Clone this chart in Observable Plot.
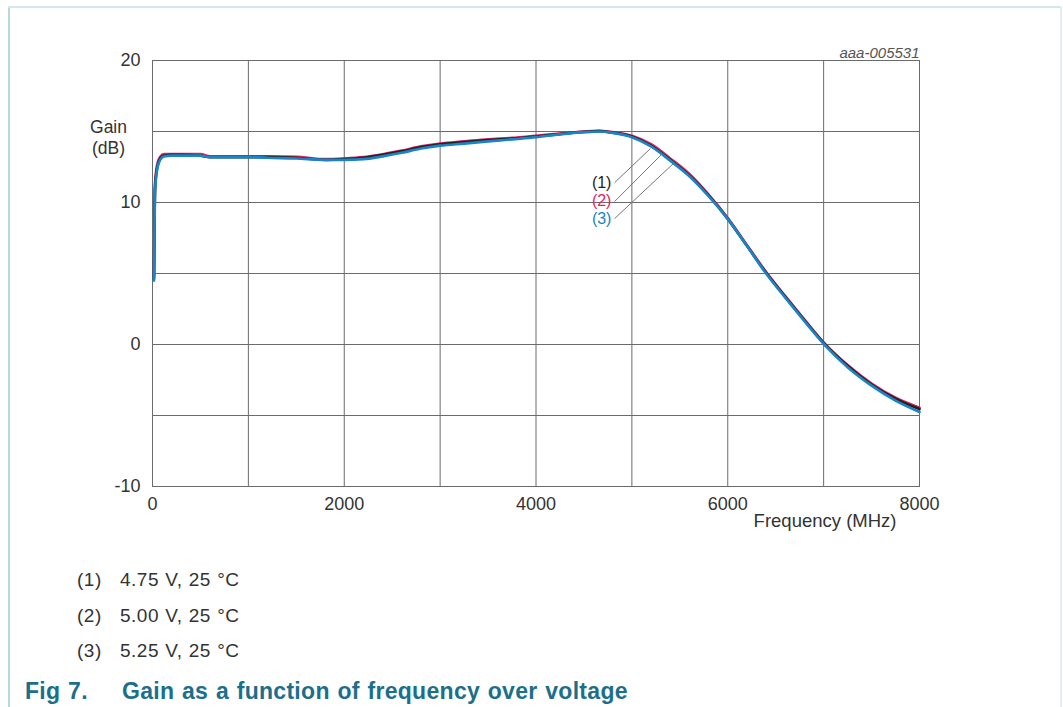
<!DOCTYPE html>
<html>
<head>
<meta charset="utf-8">
<script src="https://cdn.jsdelivr.net/npm/d3@7"></script>
<script src="https://cdn.jsdelivr.net/npm/@observablehq/plot@0.6"></script>
<style>
  html, body { margin: 0; padding: 0; background: #fff; }
  #page { position: relative; width: 1063px; height: 707px; overflow: hidden; font-family: "Liberation Sans", Arial, sans-serif; }
  #bl { position: absolute; left: 8px; top: 6px; width: 2px; height: 701px; background: #b7d7df; }
  #bt { position: absolute; left: 8px; top: 6px; width: 1054px; height: 2px; background: #d3e7ec; }
  #br { position: absolute; left: 1060px; top: 6px; width: 2px; height: 701px; background: #e2eff2; }
  #chart { position: absolute; left: 0; top: 0; }
  .leg { position: absolute; font-size: 19px; color: #333; line-height: 1; letter-spacing: 0.5px; word-spacing: 0.5px; }
  .cap { position: absolute; font-size: 23px; font-weight: bold; color: #1c6f8c; line-height: 1; letter-spacing: 0.3px; word-spacing: 1px; }
</style>
</head>
<body>
<div id="page">
  <div id="bl"></div><div id="bt"></div><div id="br"></div>
  <div id="chart"></div>
  <div class="leg" style="left:77px; top:570px;">(1)</div>
  <div class="leg" style="left:120px; top:570px;">4.75 V, 25 °C</div>
  <div class="leg" style="left:77px; top:606px;">(2)</div>
  <div class="leg" style="left:120px; top:606px;">5.00 V, 25 °C</div>
  <div class="leg" style="left:77px; top:641px;">(3)</div>
  <div class="leg" style="left:120px; top:641px;">5.25 V, 25 °C</div>
  <div class="cap" style="left:25px; top:680px;">Fig 7.</div>
  <div class="cap" style="left:122px; top:680px;">Gain as a function of frequency over voltage</div>
</div>
<script>
// Frequency (MHz)
const freq = [15, 20, 25, 35, 50, 80, 120, 200, 300, 500, 600, 800, 1000, 1200, 1500, 1800, 2000, 2200, 2400, 2600, 2800, 3000, 3250, 3500, 3750, 4000, 4250, 4500, 4650, 4800, 5000, 5200, 5400, 5600, 5800, 6000, 6200, 6400, 6600, 6800, 7000, 7250, 7500, 7750, 8000];
// Gain (dB), curve (1) 4.75 V
const gain1 = [4.6, 8.0, 10.8, 11.8, 12.5, 13.1, 13.3, 13.35, 13.35, 13.3, 13.2, 13.2, 13.2, 13.2, 13.15, 13.0, 13.05, 13.15, 13.35, 13.6, 13.9, 14.1, 14.25, 14.4, 14.5, 14.65, 14.82, 14.97, 15.02, 14.92, 14.65, 14.0, 13.0, 11.9, 10.5, 8.85, 6.95, 5.05, 3.35, 1.7, 0.1, -1.5, -2.82, -3.82, -4.55];
// Gain (dB), curve (2) 5.00 V
const gain2 = [4.8, 8.5, 11.0, 12.0, 12.7, 13.2, 13.4, 13.4, 13.4, 13.4, 13.25, 13.25, 13.25, 13.25, 13.22, 13.05, 13.1, 13.2, 13.4, 13.65, 13.95, 14.15, 14.3, 14.45, 14.55, 14.7, 14.85, 15.0, 15.05, 14.95, 14.7, 14.1, 13.1, 12.0, 10.55, 8.9, 7.0, 5.1, 3.4, 1.75, 0.15, -1.45, -2.75, -3.75, -4.45];
// Gain (dB), curve (3) 5.25 V
const gain3 = [4.5, 7.5, 10.5, 11.6, 12.4, 13.0, 13.25, 13.3, 13.3, 13.3, 13.2, 13.2, 13.2, 13.15, 13.1, 13.0, 13.0, 13.05, 13.25, 13.5, 13.8, 14.0, 14.15, 14.3, 14.45, 14.6, 14.8, 14.95, 15.0, 14.9, 14.6, 13.95, 12.95, 11.85, 10.45, 8.85, 6.95, 5.0, 3.3, 1.65, 0.05, -1.6, -2.9, -3.95, -4.75];

const seriesNames = ["(1)", "(2)", "(3)"];
const seriesColors = ["#222222", "#e3245a", "#1a84c6"];
const xTicks = [0, 2000, 4000, 6000, 8000];
const yTicks = [-10, 0, 10, 20];
const xGrid = [0, 1000, 2000, 3000, 4000, 5000, 6000, 7000, 8000];
const yGrid = [-10, -5, 0, 5, 10, 15, 20];

// annotation labels and leader lines (data coordinates)
const labelFreq = [4787, 4787, 4787];
const labelGain = [11.35, 10.1, 8.85];
const leaderFromFreq = [4820, 4820, 4820];
const leaderFromGain = [11.4, 10.07, 8.87];
const leaderToFreq = [5194, 5319, 5434];
const leaderToGain = [13.8, 13.45, 12.75];

const rows = (g, i) => freq.map((f, k) => ({ f, g: g[k], s: seriesNames[i] }));
const data1 = rows(gain1, 0), data2 = rows(gain2, 1), data3 = rows(gain3, 2);
const labels = seriesNames.map((s, i) => ({ s, f: labelFreq[i], g: labelGain[i], c: seriesColors[i],
  f1: leaderFromFreq[i], g1: leaderFromGain[i], f2: leaderToFreq[i], g2: leaderToGain[i] }));

const chart = Plot.plot({
  width: 1063,
  height: 545,
  marginTop: 60,
  marginLeft: 152,
  marginRight: 144,
  marginBottom: 59,
  style: { fontFamily: "'Liberation Sans', Arial, sans-serif", fontSize: "18px", color: "#333", background: "transparent" },
  x: { domain: [0, 8000] },
  y: { domain: [-10, 20] },
  marks: [
    Plot.gridX(xGrid, { stroke: "#6b6b6b", strokeOpacity: 1, strokeWidth: 1 }),
    Plot.gridY(yGrid, { stroke: "#6b6b6b", strokeOpacity: 1, strokeWidth: 1 }),
    Plot.frame({ stroke: "#6b6b6b", strokeWidth: 1 }),
    Plot.axisX({ ticks: xTicks, tickSize: 0, tickPadding: 11, label: null, tickFormat: d => String(d), fill: "#333", fontSize: 18 }),
    Plot.axisY({ ticks: yTicks, tickSize: 0, tickPadding: 12, label: null, tickFormat: d => String(d), fill: "#333", fontSize: 18 }),
    Plot.link(labels, { x1: "f1", y1: "g1", x2: "f2", y2: "g2", stroke: "#777", strokeWidth: 1 }),
    Plot.text(labels, { x: "f", y: "g", text: "s", fill: "c", textAnchor: "end", fontSize: 16 }),
    Plot.line(data2, { x: "f", y: "g", stroke: seriesColors[1], strokeWidth: 2.7, curve: "monotone-x" }),
    Plot.line(data1, { x: "f", y: "g", stroke: seriesColors[0], strokeWidth: 2.7, curve: "monotone-x" }),
    Plot.line(data3, { x: "f", y: "g", stroke: seriesColors[2], strokeWidth: 2.7, curve: "monotone-x" }),
    Plot.text(["Gain"], { frameAnchor: "top-left", dx: -44, dy: 60, textAnchor: "middle", fill: "#333", fontSize: 17.5 }),
    Plot.text(["(dB)"], { frameAnchor: "top-left", dx: -44, dy: 81, textAnchor: "middle", fill: "#333", fontSize: 17.5 }),
    Plot.text(["aaa-005531"], { frameAnchor: "top-right", dx: 0, dy: -13, textAnchor: "end", fill: "#555", fontSize: 15, fontStyle: "italic" }),
    Plot.text(["Frequency (MHz)"], { frameAnchor: "bottom-right", dx: -23, dy: 40, textAnchor: "end", fill: "#333", fontSize: 18.5 })
  ]
});
document.getElementById("chart").appendChild(chart);
</script>
</body>
</html>
